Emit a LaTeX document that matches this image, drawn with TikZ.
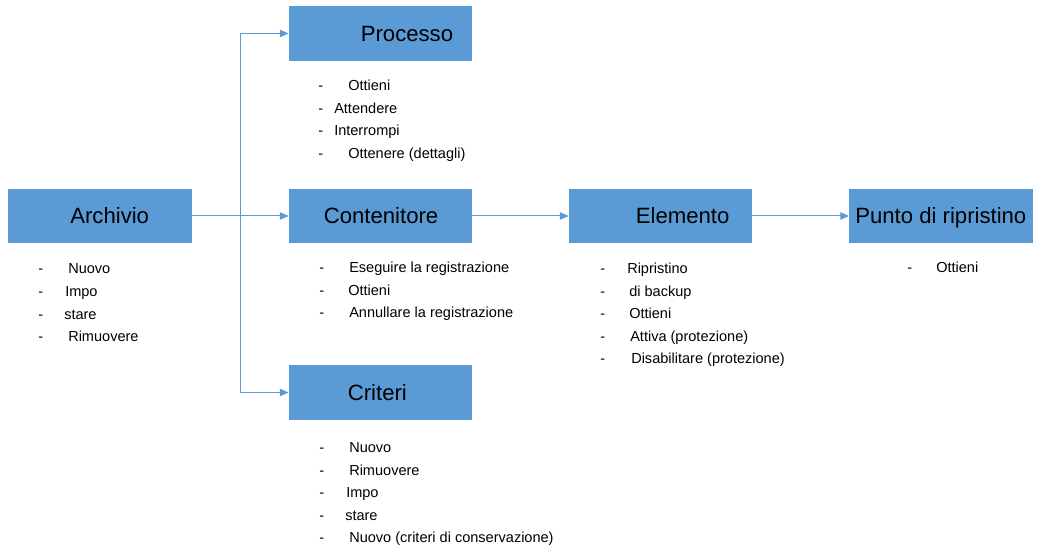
\documentclass[tikz,border=0pt]{standalone}
\usepackage{fontspec}
\setmainfont{Liberation Sans}
\usepackage{tikz}
\usetikzlibrary{arrows.meta}
\definecolor{boxblue}{HTML}{5B9BD5}
\newlength{\pxu}\setlength{\pxu}{0.75pt}
\newcommand{\dashitem}[2]{\makebox[0pt][l]{-}\hspace*{#1\pxu}#2}
\newcommand{\boxlabel}[2]{\makebox[137.5pt][l]{\hspace*{#1\pxu}#2}}

\begin{document}
\begin{tikzpicture}[x=0.75pt, y=-0.75pt,
	box/.style={fill=boxblue, inner sep=0pt, minimum height=41pt,
		minimum width=137.5pt, text height=11.9pt, text depth=0pt,
		font=\fontsize{16.6}{20}\selectfont},
	item/.style={anchor=base west, inner sep=0pt, font=\fontsize{10.9}{13}\selectfont},
	link/.style={draw=boxblue, line width=0.75pt},
	arr/.style={link, -{Triangle[length=6.5pt, width=5.5pt]}}]
	
	\useasboundingbox (0,0) rectangle (1043,555);
	
	%------------------------------------------------
	% Boxes
	%------------------------------------------------
	\node[box] (archivio)    at (100, 216)     {\boxlabel{62}{Archivio}};
	\node[box] (processo)    at (380.5, 33.5)  {\boxlabel{72}{Processo}};
	\node[box] (contenitore) at (380.5, 216)   {\boxlabel{35}{Contenitore}};
	\node[box] (criteri)     at (380.5, 392.5) {\boxlabel{59}{Criteri}};
	\node[box] (elemento)    at (660.5, 216)   {\boxlabel{67}{Elemento}};
	\node[box] (punto)       at (941, 216)     {\boxlabel{6}{Punto di ripristino}};
	
	%------------------------------------------------
	% Item lists
	%------------------------------------------------
	\foreach \off/\txt [count=\i] in {30/Nuovo, 27/Impo, 26/stare, 30/Rimuovere}
		\node[item] (arcitem\i) at (38, {251.4+22.6*\i}) {\dashitem{\off}{\txt}};
	
	\foreach \off/\txt [count=\i] in {30/Ottieni, 16/Attendere, 16/Interrompi, 30/Ottenere (dettagli)}
		\node[item] (proitem\i) at (318, {68.6+22.4*\i}) {\dashitem{\off}{\txt}};
	
	\foreach \off/\txt [count=\i] in {30/Eseguire la registrazione, 29/Ottieni, 30/Annullare la registrazione}
		\node[item] (conitem\i) at (319, {250.5+22.5*\i}) {\dashitem{\off}{\txt}};
	
	\foreach \off/\txt [count=\i] in {30/Nuovo, 30/Rimuovere, 27/Impo, 26/stare, 30/Nuovo (criteri di conservazione)}
		\node[item] (criitem\i) at (319, {430.5+22.5*\i}) {\dashitem{\off}{\txt}};
	
	\foreach \off/\txt [count=\i] in {27/Ripristino, 29/di backup, 29/Ottieni, 30/Attiva (protezione), 31/Disabilitare (protezione)}
		\node[item] (eleitem\i) at (600, {251.5+22.5*\i}) {\dashitem{\off}{\txt}};
	
	\node[item] (punitem1) at (907, 273) {\dashitem{29}{Ottieni}};
	
	%------------------------------------------------
	% Connectors
	%------------------------------------------------
	\coordinate (split) at (240, 216);
	\draw[link] (archivio.east) -- (split);
	\draw[arr] (split) |- (processo.west);
	\draw[arr] (split) -- (contenitore.west);
	\draw[arr] (split) |- (criteri.west);
	\draw[arr] (contenitore) -- (elemento);
	\draw[arr] (elemento) -- (punto);
	
\end{tikzpicture}
\end{document}
